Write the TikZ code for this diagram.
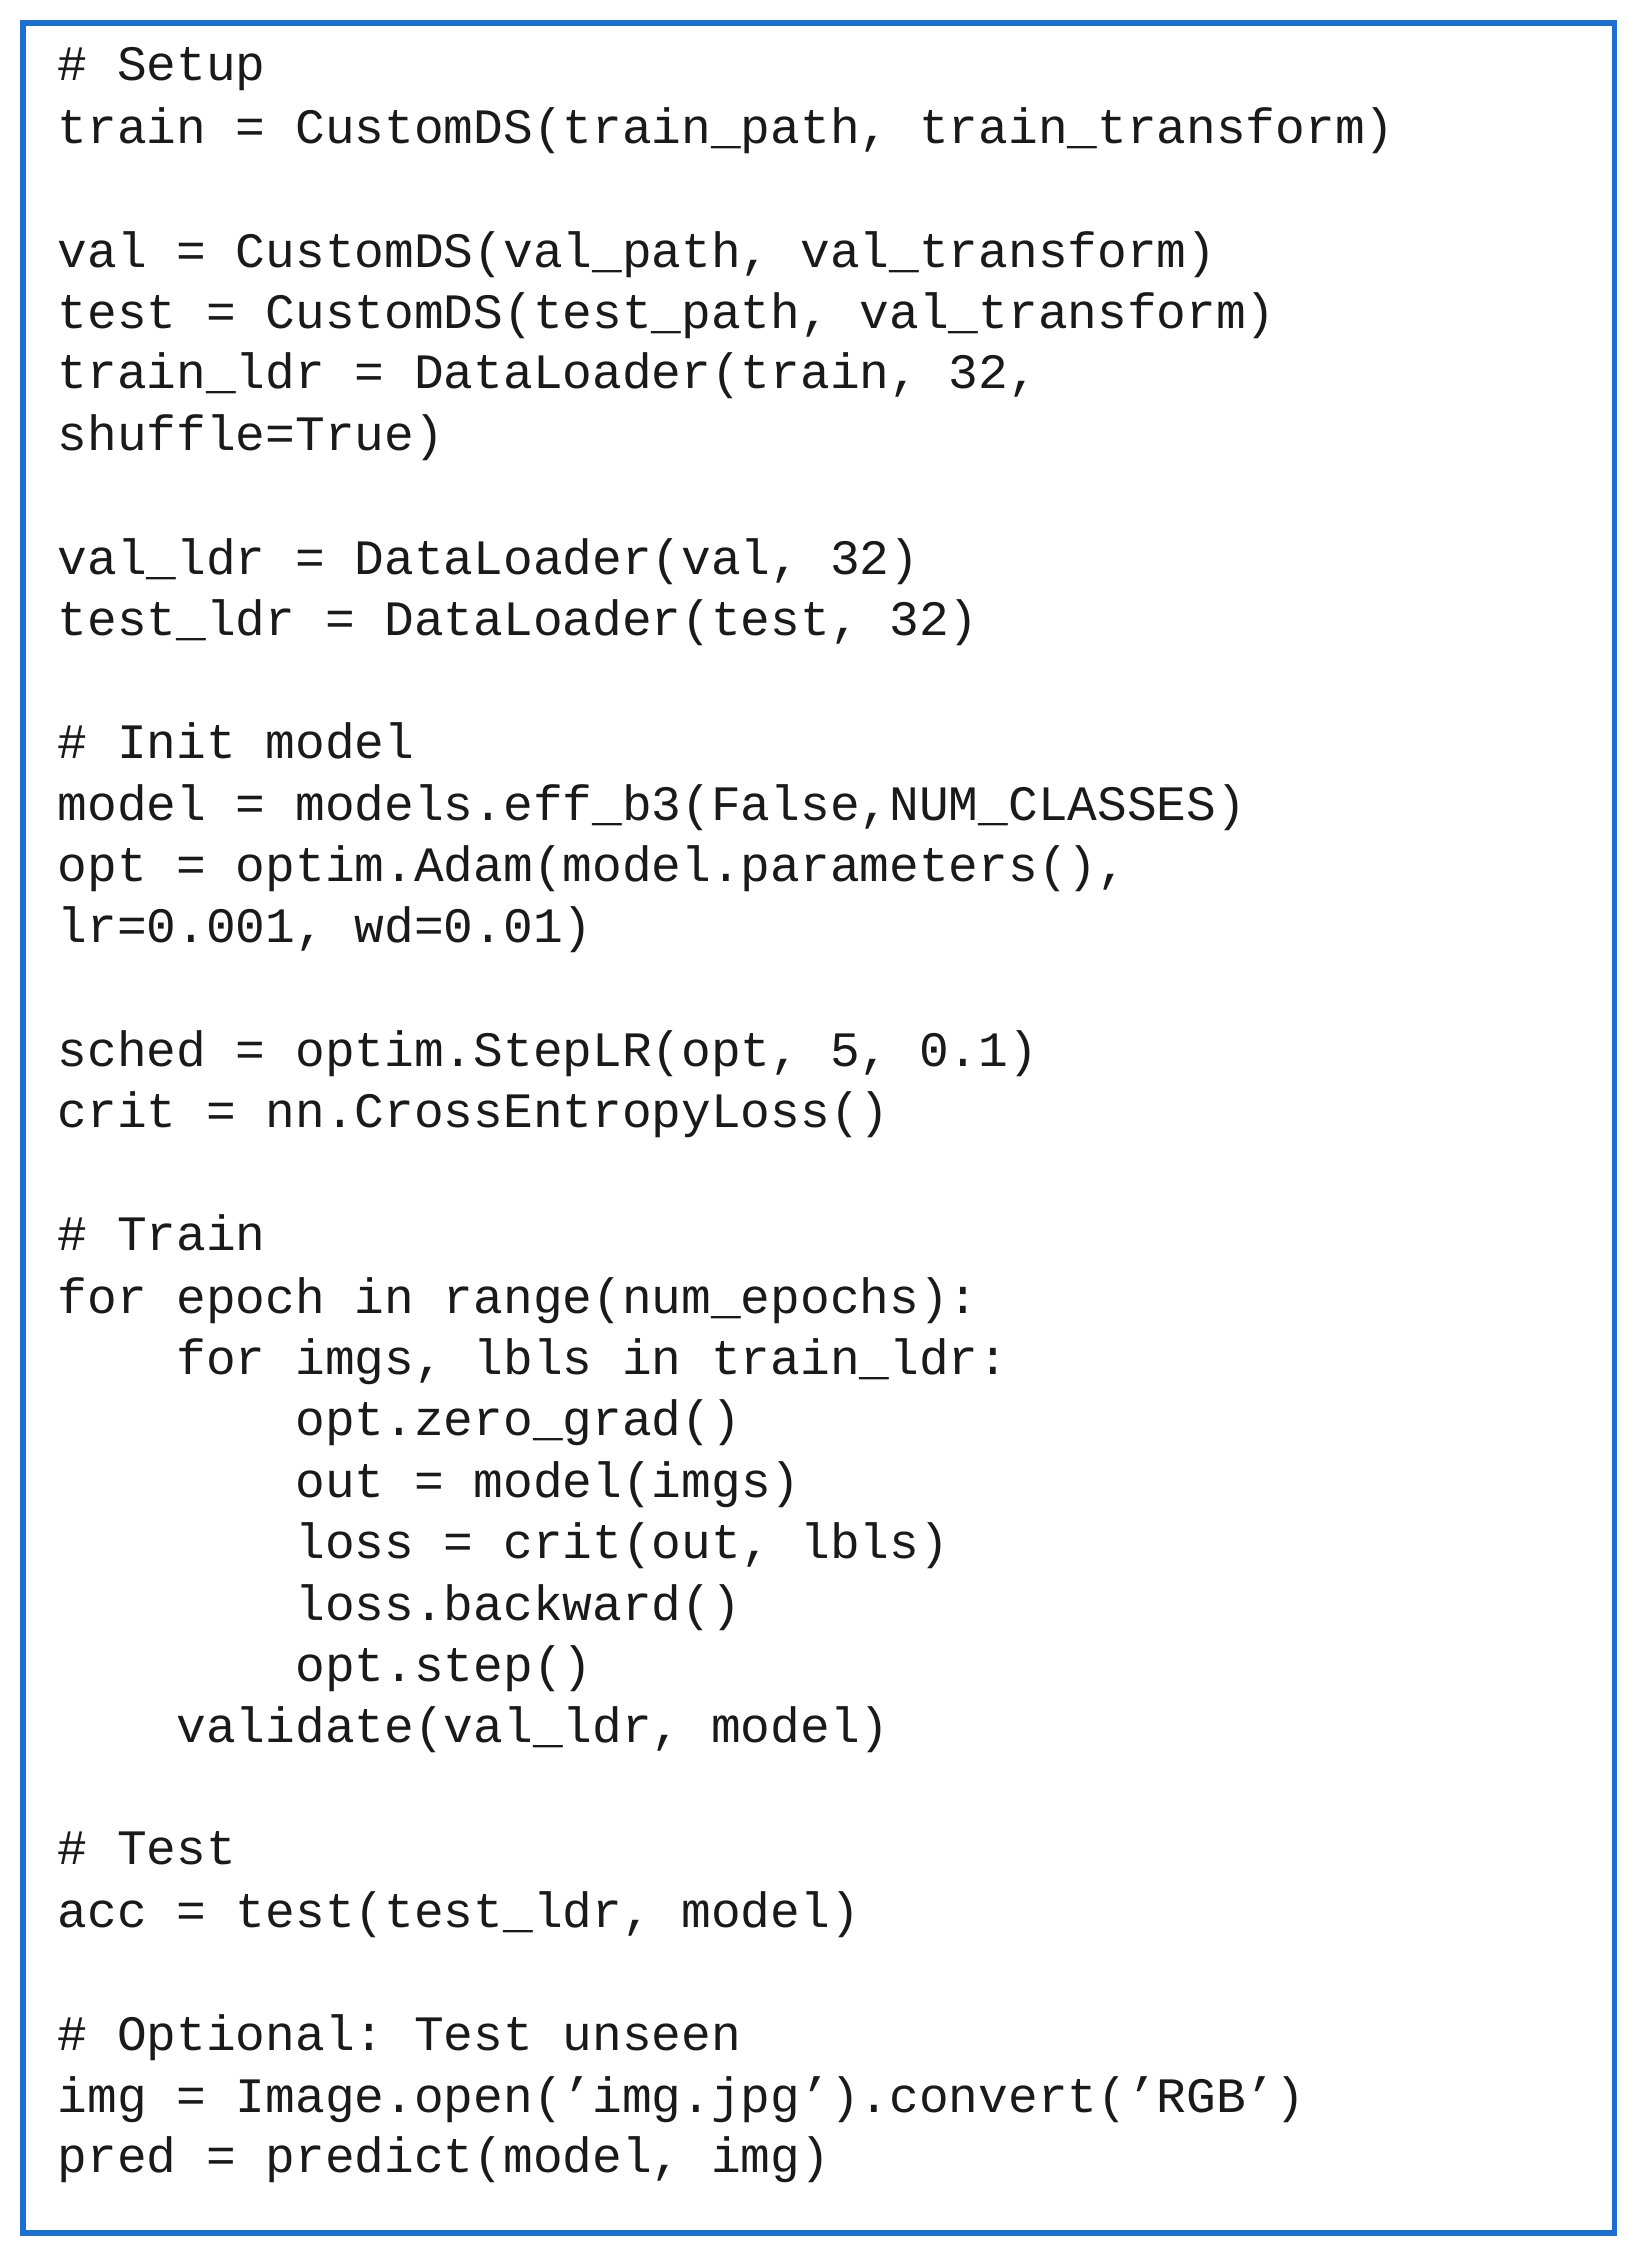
\documentclass[tikz,border=0pt]{standalone}
\usepackage{fontspec}
\setmonofont{Liberation Mono}
\definecolor{frame}{HTML}{1E6FD2}
\definecolor{ink}{HTML}{1A1A1A}
\begin{document}
\begin{tikzpicture}[x=1.4385pt,y=-1.4385pt,
  code/.style={anchor=base west,inner sep=0pt,text=ink,font=\ttfamily\fontsize{49.5}{60}\selectfont}]
\useasboundingbox (0,0) rectangle (1131,1559);
\draw[frame,line width=5.5pt] (16,16) rectangle (1122,1552);
\node[code] (l1) at (40,56) {\# Setup};
\node[code] (l2) at (40,100) {train = CustomDS(train\_path, train\_transform)};
\node[code] (l3) at (40,186) {val = CustomDS(val\_path, val\_transform)};
\node[code] (l4) at (40,228) {test = CustomDS(test\_path, val\_transform)};
\node[code] (l5) at (40,270) {train\_ldr = DataLoader(train, 32,};
\node[code] (l6) at (40,313) {shuffle=True)};
\node[code] (l7) at (40,399) {val\_ldr = DataLoader(val, 32)};
\node[code] (l8) at (40,442) {test\_ldr = DataLoader(test, 32)};
\node[code] (l9) at (40,527) {\# Init model};
\node[code] (l10) at (40,570) {model = models.eff\_b3(False,NUM\_CLASSES)};
\node[code] (l11) at (40,613) {opt = optim.Adam(model.parameters(),};
\node[code] (l12) at (40,655) {lr=0.001, wd=0.01)};
\node[code] (l13) at (40,741) {sched = optim.StepLR(opt, 5, 0.1)};
\node[code] (l14) at (40,784) {crit = nn.CrossEntropyLoss()};
\node[code] (l15) at (40,869) {\# Train};
\node[code] (l16) at (40,913) {for epoch in range(num\_epochs):};
\node[code] (l17) at (40,955) {\ \ \ \ for imgs, lbls in train\_ldr:};
\node[code] (l18) at (40,998) {\ \ \ \ \ \ \ \ opt.zero\_grad()};
\node[code] (l19) at (40,1041) {\ \ \ \ \ \ \ \ out = model(imgs)};
\node[code] (l20) at (40,1083) {\ \ \ \ \ \ \ \ loss = crit(out, lbls)};
\node[code] (l21) at (40,1126) {\ \ \ \ \ \ \ \ loss.backward()};
\node[code] (l22) at (40,1169) {\ \ \ \ \ \ \ \ opt.step()};
\node[code] (l23) at (40,1211) {\ \ \ \ validate(val\_ldr, model)};
\node[code] (l24) at (40,1296) {\# Test};
\node[code] (l25) at (40,1340) {acc = test(test\_ldr, model)};
\node[code] (l26) at (40,1425) {\# Optional: Test unseen};
\node[code] (l27) at (40,1468) {img = Image.open(’img.jpg’).convert(’RGB’)};
\node[code] (l28) at (40,1510) {pred = predict(model, img)};
\end{tikzpicture}
\end{document}
